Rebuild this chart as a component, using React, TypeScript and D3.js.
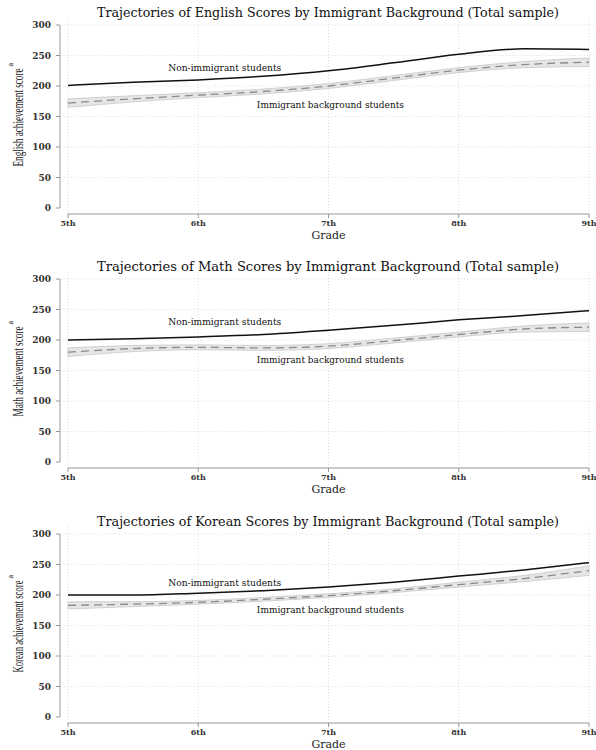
import React from 'react';
import * as d3 from 'd3';

// grades at half-grade steps
const grades = [5, 5.5, 6, 6.5, 7, 7.5, 8, 8.5, 9];
const gradeTicks = [5, 6, 7, 8, 9];
const gradeLabels = ['5th', '6th', '7th', '8th', '9th'];
const scoreTicks = [0, 50, 100, 150, 200, 250, 300];

const subjects = ['English', 'Math', 'Korean'];

const englishNon = [201, 206, 210, 216, 225, 238, 252, 261, 260];
const englishImm = [172, 179, 185, 191, 200, 213, 226, 235, 239];
const englishLo = [165, 174, 181, 187, 196, 209, 222, 230, 232];
const englishHi = [179, 184, 189, 195, 204, 217, 230, 240, 246];

const mathNon = [200, 202, 205, 209, 216, 224, 233, 240, 248];
const mathImm = [180, 186, 188, 187, 190, 199, 209, 218, 221];
const mathLo = [173, 181, 184, 183, 186, 195, 205, 213, 214];
const mathHi = [187, 191, 192, 191, 194, 203, 213, 223, 228];

const koreanNon = [200, 200, 203, 207, 213, 221, 231, 241, 253];
const koreanImm = [183, 185, 188, 193, 199, 207, 217, 227, 240];
const koreanLo = [177, 181, 185, 190, 196, 204, 213, 222, 232];
const koreanHi = [189, 189, 191, 196, 202, 210, 221, 232, 248];

const nonLabel = 'Non-immigrant students';
const immLabel = 'Immigrant background students';

const W = 596;
const H = 750;
const serif = '"DejaVu Serif", serif';
const times = '"Liberation Serif", serif';

type PanelProps = {
  top: number;
  subject: string;
  non: number[];
  imm: number[];
  lo: number[];
  hi: number[];
  nonAt: [number, number];
  immAt: [number, number];
  yTitleLen: number;
};

function Panel({ top, subject, non, imm, lo, hi, nonAt, immAt, yTitleLen }: PanelProps) {
  const x = d3.scaleLinear().domain([5, 9]).range([68, 589]);
  const y = d3.scaleLinear().domain([0, 300]).range([208, 25]);

  const line = d3.line<number>()
    .x((_, i) => x(grades[i]))
    .y(d => y(d))
    .curve(d3.curveMonotoneX);

  const band = d3.area<number>()
    .x((_, i) => x(grades[i]))
    .y0((_, i) => y(lo[i]))
    .y1((_, i) => y(hi[i]))
    .curve(d3.curveMonotoneX);

  const axisY = 214;
  const midY = (y(0) + y(300)) / 2 + 1;

  return (
    <g transform={`translate(0,${top})`}>
      <text x={328} y={17} textAnchor="middle" fontFamily={serif} fontSize={13}
        textLength={462} lengthAdjust="spacingAndGlyphs" fill="#111">
        {`Trajectories of ${subject} Scores by Immigrant Background (Total sample)`}
      </text>

      {/* grid */}
      {scoreTicks.filter(t => t > 0).map(t => (
        <line key={'h' + t} x1={62} x2={W} y1={y(t)} y2={y(t)}
          stroke="#d6d6d6" strokeWidth={0.8} strokeDasharray="1 2" />
      ))}
      {gradeTicks.map(g => (
        <line key={'v' + g} x1={x(g)} x2={x(g)} y1={18} y2={axisY}
          stroke="#d6d6d6" strokeWidth={0.8} strokeDasharray="1 2" />
      ))}

      {/* y axis */}
      <line x1={60} x2={60} y1={y(300)} y2={y(0)} stroke="#999" strokeWidth={1} />
      {scoreTicks.map(t => (
        <g key={'yt' + t}>
          <line x1={56} x2={60} y1={y(t)} y2={y(t)} stroke="#999" strokeWidth={1} />
          <text x={51} y={y(t) + 3} textAnchor="end" fontFamily={serif} fontSize={9}
            fontWeight="bold" fill="#333">{t}</text>
        </g>
      ))}

      {/* x axis */}
      <line x1={x(5)} x2={x(9)} y1={axisY} y2={axisY} stroke="#999" strokeWidth={1} />
      {gradeTicks.map((g, i) => (
        <g key={'xt' + g}>
          <line x1={x(g)} x2={x(g)} y1={axisY} y2={axisY + 4} stroke="#999" strokeWidth={1} />
          <text x={x(g)} y={axisY + 12} textAnchor="middle" fontFamily={serif} fontSize={8}
            fontWeight="bold" fill="#333">
            {gradeLabels[i]}
          </text>
        </g>
      ))}
      <text x={(x(5) + x(9)) / 2} y={axisY + 25} textAnchor="middle" fontFamily={serif} fontSize={11} fill="#222">
        Grade
      </text>

      {/* y title */}
      <g transform={`translate(23,${midY}) rotate(-90)`}>
        <text x={0} y={0} textAnchor="middle" fontFamily={times} fontSize={15}
          textLength={yTitleLen} lengthAdjust="spacingAndGlyphs" fill="#222">
          {`${subject} achievement score`}
        </text>
        <text x={yTitleLen / 2 + 2} y={-10} fontFamily={times} fontSize={8} fill="#222">a</text>
      </g>

      {/* series */}
      <path d={band(imm) ?? ''} fill="#e6e6e6" stroke="#c8c8c8" strokeWidth={0.8} />
      <path d={line(imm) ?? ''} fill="none" stroke="#8a8a8a" strokeWidth={1.3} strokeDasharray="8 5" />
      <path d={line(non) ?? ''} fill="none" stroke="#111" strokeWidth={1.5} />

      <text x={x(nonAt[0])} y={y(nonAt[1])} fontFamily={serif} fontSize={9.5} fill="#111"
        textLength={113} lengthAdjust="spacingAndGlyphs">{nonLabel}</text>
      <text x={x(immAt[0])} y={y(immAt[1])} fontFamily={serif} fontSize={9.5} fill="#111"
        textLength={147} lengthAdjust="spacingAndGlyphs">{immLabel}</text>
    </g>
  );
}

export default function App() {
  return (
    <svg width={W} height={H} style={{ position: 'absolute', left: 0, top: 0, background: '#fff' }}>
      <rect width={W} height={H} fill="#fff" />
      <Panel top={0} subject={subjects[0]} non={englishNon} imm={englishImm} lo={englishLo} hi={englishHi}
        nonAt={[5.77, 224]} immAt={[6.45, 164]} yTitleLen={98} />
      <Panel top={254} subject={subjects[1]} non={mathNon} imm={mathImm} lo={mathLo} hi={mathHi}
        nonAt={[5.77, 224]} immAt={[6.45, 163]} yTitleLen={90} />
      <Panel top={509} subject={subjects[2]} non={koreanNon} imm={koreanImm} lo={koreanLo} hi={koreanHi}
        nonAt={[5.77, 214]} immAt={[6.45, 170]} yTitleLen={92} />
    </svg>
  );
}
